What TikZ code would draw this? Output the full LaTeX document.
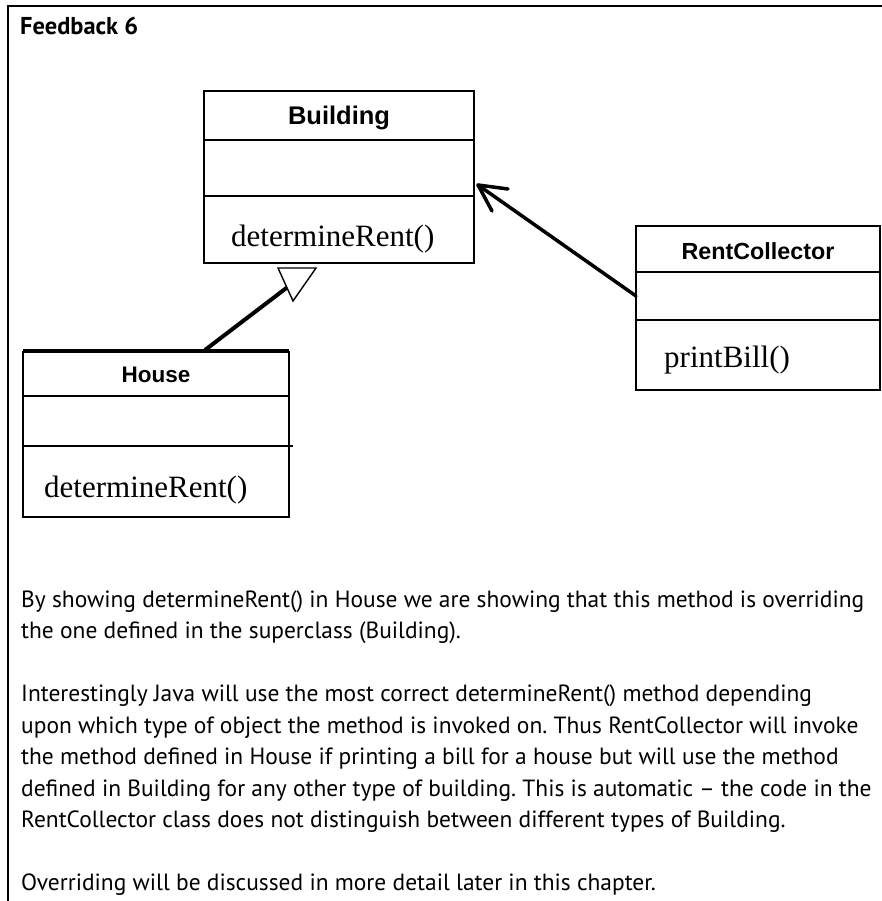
\documentclass[tikz,border=0pt]{standalone}
\usepackage{fontspec}
\setmainfont{Liberation Serif}
\newfontfamily\bodyfont{PT Sans}
\newfontfamily\arialfont{Liberation Sans}
\newfontfamily\timesfont{Liberation Serif}
\newlength\fitlen
\newcommand\fitfont[4]{%
  \settowidth\fitlen{#2\fontsize{10pt}{12pt}\selectfont #4}%
  \pgfmathsetmacro#1{10*#3/\fitlen}}
\frenchspacing
\begin{document}
\fitfont\bodysz{\bodyfont}{843}{By showing determineRent() in House we are showing that this method is overriding}%
\fitfont\titlesz{\bodyfont\bfseries}{118}{Feedback 6}%
\begin{tikzpicture}[x=1pt,y=-1pt,
  clsbox/.style={draw, line width=1.6pt, inner sep=0pt, outer sep=0pt, anchor=north},
  clstitle/.style={font=\arialfont\bfseries\fontsize{#1pt}{#1pt}\selectfont, anchor=base, inner sep=0pt},
  method/.style={font=\timesfont\fontsize{31pt}{31pt}\selectfont, anchor=base west, inner sep=0pt},
  bodyline/.style={font=\bodyfont\fontsize{\bodysz pt}{\bodysz pt}\selectfont, anchor=base west, inner sep=0pt},
  gen/.style={line width=4pt},
  assoc/.style={line width=3.5pt, line cap=round, line join=round}]
\useasboundingbox (0,0) rectangle (882,901);
% frame
\draw[line width=1.4pt] (8,901) -- (8,6) -- (882,6);
\node[font=\bodyfont\bfseries\fontsize{\titlesz pt}{\titlesz pt}\selectfont, anchor=base west, inner sep=0pt] (title) at (20,35) {Feedback 6};
% Building
\node[clsbox, minimum width=270pt, minimum height=49pt, anchor=north west] (bldgH) at (204,91) {};
\node[clsbox, minimum width=270pt, minimum height=56pt] (bldgA) at (bldgH.south) {};
\node[clsbox, minimum width=270pt, minimum height=67pt] (bldgM) at (bldgA.south) {};
\node[clstitle=25.5] (bldgT) at (339,125) {Building};
\node[method] (bldgOp) at (231,247) {determineRent()};
% House
\node[clsbox, minimum width=266pt, minimum height=44pt, anchor=north west] (houseH) at (23,352) {};
\node[clsbox, minimum width=266pt, minimum height=50pt] (houseA) at (houseH.south) {};
\node[clsbox, minimum width=266pt, minimum height=71pt] (houseM) at (houseA.south) {};
\draw[line width=1.2pt] ([yshift=2pt]houseH.north west) -- ([yshift=2pt]houseH.north east);
\draw[line width=1.6pt] (houseA.south east) -- ++(4,0);
\node[clstitle=22.5] (houseT) at (156,382) {House};
\node[method] (houseOp) at (44,497) {determineRent()};
% RentCollector
\node[clsbox, minimum width=244pt, minimum height=46pt, anchor=north west] (rcH) at (636,226) {};
\node[clsbox, minimum width=244pt, minimum height=48pt] (rcA) at (rcH.south) {};
\node[clsbox, minimum width=244pt, minimum height=70pt] (rcM) at (rcA.south) {};
\node[clstitle=23.3] (rcT) at (758,259) {RentCollector};
\node[method] (rcOp) at (664,367) {printBill()};
% generalization
\coordinate (inhStart) at (205,350);
\coordinate (inhEnd) at (289,286);
\coordinate (inhA) at (278,268);
\coordinate (inhB) at (316,268);
\coordinate (inhC) at (293,301);
\draw[gen] (inhStart) -- (inhEnd);
\draw[line width=1.4pt, fill=white] (inhA) -- (inhB) -- (inhC) -- cycle;
% association
\coordinate (assocTip) at (478,185);
\draw[assoc] (rcA.west) -- (assocTip);
\draw[assoc] (assocTip) ++(30,4) -- (assocTip) -- ++(14,26);
% body text
\node[bodyline] (p1a) at (21,607) {By showing determineRent() in House we are showing that this method is overriding};
\node[bodyline] (p1b) at (21,638.5) {the one defined in the superclass (Building).};
\node[bodyline] (p2a) at (21,701.5) {Interestingly Java will use the most correct determineRent() method depending};
\node[bodyline] (p2b) at (21,733) {upon which type of object the method is invoked on. Thus RentCollector will invoke};
\node[bodyline] (p2c) at (21,764.5) {the method defined in House if printing a bill for a house but will use the method};
\node[bodyline] (p2d) at (21,796) {defined in Building for any other type of building. This is automatic – the code in the};
\node[bodyline] (p2e) at (21,827.5) {RentCollector class does not distinguish between different types of Building.};
\node[bodyline] (p3a) at (21,890.5) {Overriding will be discussed in more detail later in this chapter.};
\end{tikzpicture}
\end{document}
